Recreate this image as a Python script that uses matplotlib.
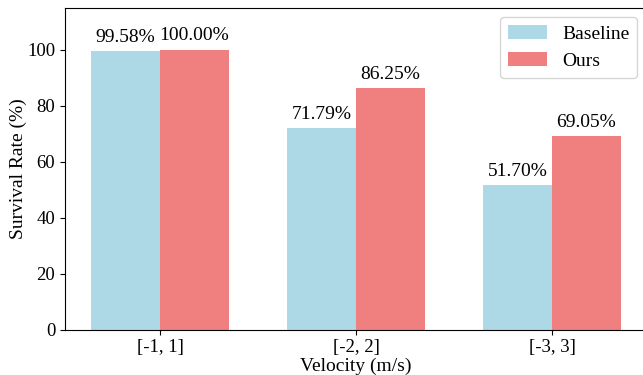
import matplotlib.pyplot as plt
import numpy as np

plt.rcParams['font.family'] = ['Liberation Serif', 'DejaVu Serif']

# velocity ranges and survival rates
categories = ['[-1, 1]', '[-2, 2]', '[-3, 3]']
baseline = [99.58, 71.79, 51.70]
ours = [100.00, 86.25, 69.05]

x = np.arange(len(categories))
w = 0.35

fig = plt.figure(figsize=(6.43, 3.75), dpi=100)
ax = fig.add_axes([65 / 643, 1 - 329.5 / 375, 582 / 643, 322 / 375])

b1 = ax.bar(x - w / 2, baseline, w, color='lightblue', label='Baseline')
b2 = ax.bar(x + w / 2, ours, w, color='lightcoral', label='Ours')

for bars in (b1, b2):
    for rect in bars:
        h = rect.get_height()
        ax.text(rect.get_x() + rect.get_width() / 2, h + 1.8, f'{h:.2f}%',
                ha='center', va='bottom', fontsize=14)

ax.set_xlim(-0.485, 2.485)
ax.set_ylim(0, 115)
ax.set_xticks(x)
ax.set_xticklabels(categories)
ax.tick_params(labelsize=13.5)
ax.set_xlabel('Velocity (m/s)', fontsize=14, labelpad=1)
ax.set_ylabel('Survival Rate (%)', fontsize=14, labelpad=0)
ax.legend(loc='upper right', fontsize=14)

fig.savefig('out.png', dpi=100)
